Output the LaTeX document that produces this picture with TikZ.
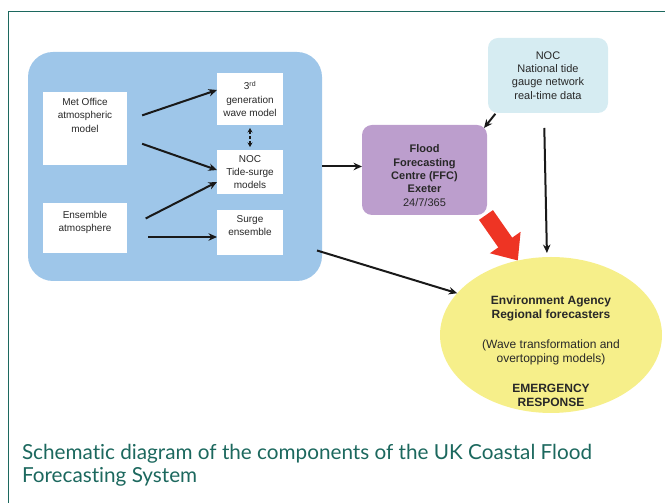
\documentclass[tikz,border=0pt]{standalone}
\usepackage{fontspec}
\setmainfont{Liberation Sans}
\newfontfamily\captionfont[Ligatures=NoCommon]{Lato}
\usepackage{xcolor}
\definecolor{cfblue}{RGB}{158,198,233}
\definecolor{cfcyan}{RGB}{214,236,242}
\definecolor{cfpurple}{RGB}{188,158,205}
\definecolor{cfyellow}{RGB}{246,239,138}
\definecolor{cfred}{RGB}{238,52,36}
\definecolor{cfteal}{RGB}{28,104,94}
\definecolor{cftext}{RGB}{40,40,40}
\usetikzlibrary{arrows.meta,positioning,shapes.geometric}
\pgfdeclarelayer{bg}
\pgfsetlayers{bg,main}

\begin{document}
\begin{tikzpicture}[
  x=1pt,y=1pt,
  every node/.style={font=\fontsize{10}{13.3}\selectfont,text=cftext,outer sep=0pt},
  modelblock/.style={fill=cfblue,rounded corners=25pt,minimum width=294pt,minimum height=229pt},
  inbox/.style={fill=white,minimum width=84pt,align=center,inner sep=2pt},
  midbox/.style={fill=white,minimum width=66pt,align=center,inner sep=2pt},
  gaugebox/.style={fill=cfcyan,rounded corners=10pt,minimum width=120pt,minimum height=75pt,align=center,
                   font=\fontsize{11}{13.3}\selectfont},
  ffcbox/.style={fill=cfpurple,rounded corners=10pt,minimum width=125pt,minimum height=90pt,align=center,
                 font=\fontsize{11}{13.3}\selectfont},
  eaoval/.style={ellipse,fill=cfyellow,minimum width=222pt,minimum height=156pt,inner sep=0pt},
  eatext/.style={font=\fontsize{12}{14}\selectfont,align=center},
  captext/.style={font=\captionfont\fontsize{20.7}{23}\selectfont,text=cfteal,align=left,inner sep=0pt},
  arr/.style={-{Stealth[length=8.5pt,width=7.5pt]},line width=2pt,black!90},
  dlink/.style={{Stealth[length=4.5pt,width=5pt]}-{Stealth[length=4.5pt,width=5pt]},densely dashed,line width=1.1pt,black!90},
  redarr/.style={cfred,line width=17pt,-{Triangle[length=22pt,width=36pt]}},
]
  \useasboundingbox (0,0) rectangle (665,503);

  % Page frame
  \draw[cfteal,line width=1.4pt] (8.5,0) -- (8.5,491.5) -- (665,491.5);

  % Forecast models (left)
  \node[modelblock] (model) at (175,336.5) {};
  \node[inbox,minimum height=73pt] (met) at (85,374.5) {Met Office\\atmospheric\\model\\[13pt]\mbox{}};
  \node[inbox,minimum height=50pt] (ens) at (85,275) {Ensemble\\atmosphere\\\mbox{}};
  \node[midbox,minimum height=52pt] (wave) at (250,404) {3\textsuperscript{rd}\\generation\\wave model};
  \node[midbox,minimum height=44pt] (tide) at (250,331) {NOC\\Tide-surge\\models};
  \node[midbox,minimum height=45pt] (surge) at (250,270.5) {Surge\\ensemble\\\mbox{}};

  % Tide gauge data and FFC
  \node[gaugebox] (gauge) at (548,427.5) {NOC\\National tide\\gauge network\\real-time data};
  \node[ffcbox] (ffc) at (424.5,333) {\mbox{}\\[6pt]\textbf{Flood}\\\textbf{Forecasting}\\\textbf{Centre (FFC)}\\\textbf{Exeter}\\24/7/365};

  % Environment Agency
  \node[eaoval,label={[eatext,yshift=-16pt]center:{\textbf{Environment Agency}\\\textbf{Regional forecasters}\\[16pt](Wave transformation and\\overtopping models)\\[16pt]\textbf{EMERGENCY}\\\textbf{RESPONSE}}}] (ea) at (551,168) {};

  % Inputs to the models
  \draw[arr,shorten <=16pt] ([yshift=8pt]met.east) -- ([yshift=9pt]wave.west);
  \draw[arr,shorten <=16pt] ([yshift=-10pt]met.east) -- ([yshift=2pt]tide.west);
  \draw[arr,shorten <=21pt] (ens.east) -- ([yshift=-10pt]tide.west);
  \draw[arr,shorten <=21pt] ([yshift=-9pt]ens.east) -- ([yshift=-4.5pt]surge.west);
  \draw[dlink,shorten <=3pt,shorten >=3pt] (wave.south) -- (tide.north);

  % Outputs
  \draw[arr] (model.east) -- (ffc.west |- model.east);
  \draw[arr] ([xshift=-5pt,yshift=-84pt]model.east) -- (ea.156);
  \draw[arr,shorten <=1pt] ([xshift=8pt]gauge.south west) -- ([shift={(-3,-3)}]ffc.north east);
  \draw[arr,shorten <=15pt,shorten >=4pt] ([xshift=-4pt]gauge.south) -- ([xshift=-4pt]ea.north);
  \begin{pgfonlayer}{bg}
    \draw[redarr] ([xshift=-1pt]ffc.south east) -- (ea.114);
  \end{pgfonlayer}

  % Caption
  \node[captext,anchor=base west] (caption) at (22,20) {Schematic diagram of the components of the UK Coastal Flood\\Forecasting System};
\end{tikzpicture}
\end{document}
